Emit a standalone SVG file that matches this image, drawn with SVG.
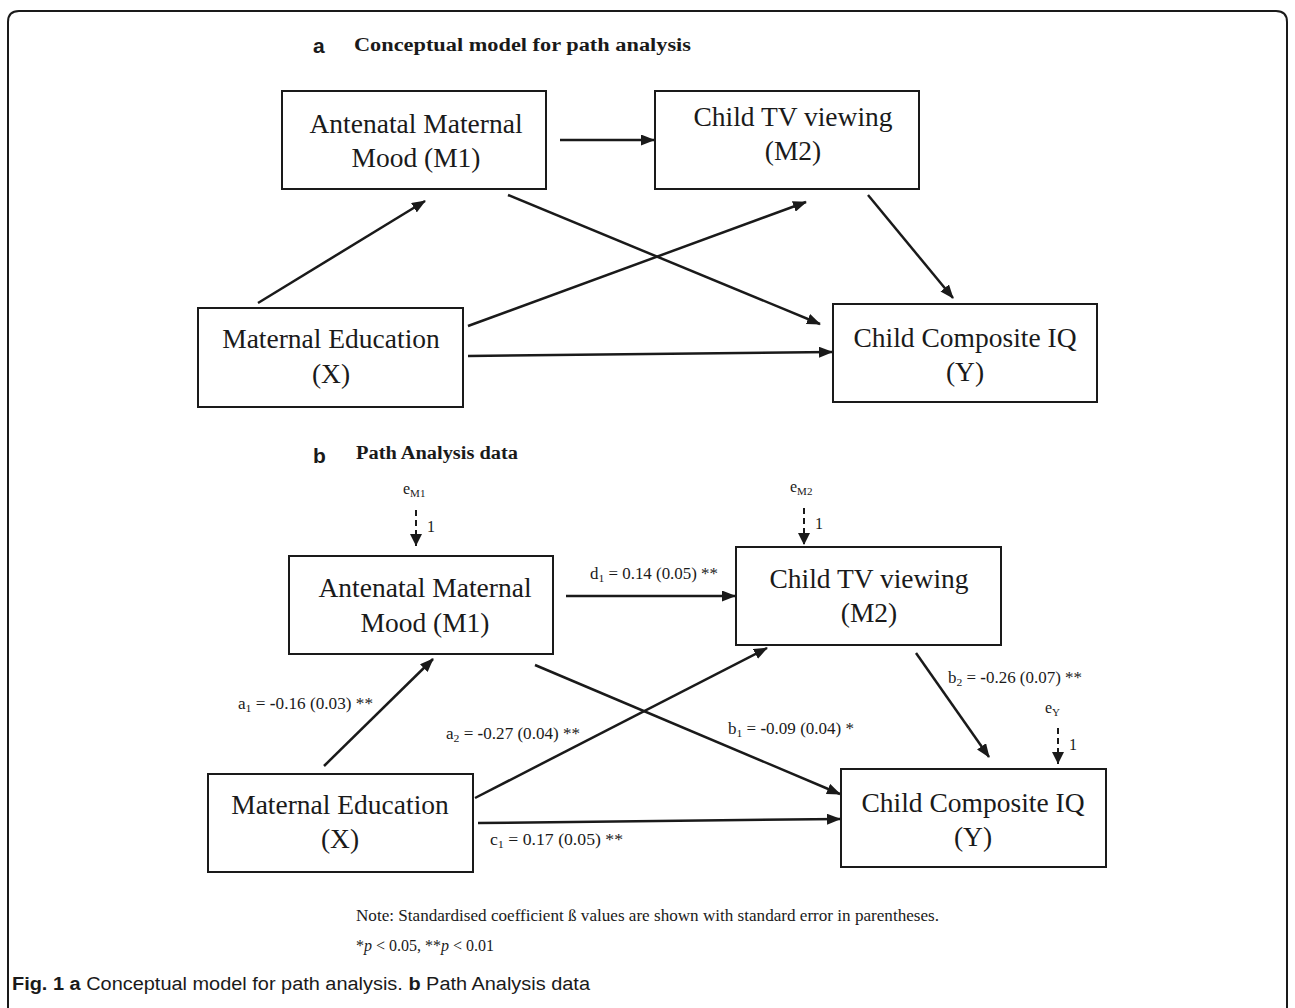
<svg xmlns="http://www.w3.org/2000/svg" width="1295" height="1008" viewBox="0 0 1295 1008">
<style>
.box{fill:#fff;stroke:#1a1a1a;stroke-width:2}
.nt{font-family:"Liberation Serif",serif;font-size:27.5px;fill:#1a1a1a;text-anchor:middle}
.lbl{font-family:"Liberation Serif",serif;font-size:16px;fill:#1a1a1a}
.sub{font-size:11px}
.edge{stroke:#1a1a1a;stroke-width:2.5;fill:none;marker-end:url(#ah)}
.dash{stroke:#1a1a1a;stroke-width:2;fill:none;stroke-dasharray:6,4;marker-end:url(#ah2)}
.ttl{font-family:"Liberation Serif",serif;font-size:18px;font-weight:bold;fill:#1a1a1a}
.let{font-family:"Liberation Sans",sans-serif;font-size:21px;font-weight:bold;fill:#1a1a1a}
.cap{font-family:"Liberation Sans",sans-serif;font-size:18px;fill:#1a1a1a}
</style>
<defs>
<marker id="ah" markerWidth="14" markerHeight="11" refX="13" refY="5.5" orient="auto" markerUnits="userSpaceOnUse">
<path d="M0,0 L14,5.5 L0,11 z" fill="#1a1a1a"/>
</marker>
<marker id="ah2" markerWidth="12" markerHeight="12" refX="12" refY="6" orient="auto" markerUnits="userSpaceOnUse">
<path d="M0,0 L12,6 L0,12 z" fill="#1a1a1a"/>
</marker>
</defs>
<rect width="1295" height="1008" fill="#fff"/>
<path d="M8,1010 L8,22 Q8,11 19,11 L1276,11 Q1287,11 1287,22 L1287,1010" fill="none" stroke="#1a1a1a" stroke-width="2"/>

<text class="let" x="313" y="53">a</text>
<text class="ttl" x="354" y="51" textLength="337" lengthAdjust="spacingAndGlyphs">Conceptual model for path analysis</text>

<g id="connectors-a">
<line class="edge" x1="560" y1="140" x2="654" y2="140"/>
<line class="edge" x1="258" y1="303" x2="425" y2="201"/>
<line class="edge" x1="468" y1="326" x2="806" y2="202"/>
<line class="edge" x1="508" y1="195" x2="820" y2="324"/>
<line class="edge" x1="868" y1="195" x2="953" y2="298"/>
<line class="edge" x1="468" y1="356" x2="832" y2="352"/>
</g>

<g id="a-M1"><rect class="box" x="282" y="91" width="264" height="98"/>
<text class="nt" x="416" y="133">Antenatal Maternal</text><text class="nt" x="416" y="167">Mood (M1)</text></g>
<g id="a-M2"><rect class="box" x="655" y="91" width="264" height="98"/>
<text class="nt" x="793" y="126">Child TV viewing</text><text class="nt" x="793" y="160">(M2)</text></g>
<g id="a-X"><rect class="box" x="198" y="308" width="265" height="99"/>
<text class="nt" x="331" y="348">Maternal Education</text><text class="nt" x="331" y="383">(X)</text></g>
<g id="a-Y"><rect class="box" x="833" y="304" width="264" height="98"/>
<text class="nt" x="965" y="347">Child Composite IQ</text><text class="nt" x="965" y="381">(Y)</text></g>

<text class="let" x="313" y="463">b</text>
<text class="ttl" x="356" y="459" textLength="162" lengthAdjust="spacingAndGlyphs">Path Analysis data</text>

<g id="connectors-b">
<line class="edge" x1="566" y1="596" x2="735" y2="596"/>
<line class="edge" x1="324" y1="766" x2="433" y2="659"/>
<line class="edge" x1="475" y1="798" x2="767" y2="648"/>
<line class="edge" x1="535" y1="665" x2="840" y2="794"/>
<line class="edge" x1="916" y1="653" x2="989" y2="757"/>
<line class="edge" x1="478" y1="823" x2="840" y2="819"/>
<line class="dash" x1="416" y1="510" x2="416" y2="546"/>
<line class="dash" x1="804" y1="508" x2="804" y2="545"/>
<line class="dash" x1="1058" y1="728" x2="1058" y2="764"/>
</g>

<g id="b-labels">
<text class="lbl" x="590" y="579" textLength="128" lengthAdjust="spacingAndGlyphs">d<tspan class="sub" dy="3">1</tspan><tspan dy="-3"> = 0.14 (0.05) **</tspan></text>
<text class="lbl" x="238" y="709" textLength="135" lengthAdjust="spacingAndGlyphs">a<tspan class="sub" dy="3">1</tspan><tspan dy="-3"> = <tspan font-weight="bold">-</tspan>0.16 (0.03) **</tspan></text>
<text class="lbl" x="446" y="739" textLength="134" lengthAdjust="spacingAndGlyphs">a<tspan class="sub" dy="3">2</tspan><tspan dy="-3"> = <tspan font-weight="bold">-</tspan>0.27 (0.04) **</tspan></text>
<text class="lbl" x="728" y="734" textLength="126" lengthAdjust="spacingAndGlyphs">b<tspan class="sub" dy="3">1</tspan><tspan dy="-3"> = <tspan font-weight="bold">-</tspan>0.09 (0.04) *</tspan></text>
<text class="lbl" x="948" y="683" textLength="134" lengthAdjust="spacingAndGlyphs">b<tspan class="sub" dy="3">2</tspan><tspan dy="-3"> = <tspan font-weight="bold">-</tspan>0.26 (0.07) **</tspan></text>
<text class="lbl" x="490" y="845" textLength="133" lengthAdjust="spacingAndGlyphs">c<tspan class="sub" dy="3">1</tspan><tspan dy="-3"> = 0.17 (0.05) **</tspan></text>
<text class="lbl" x="403" y="494" font-size="14">e<tspan class="sub" dy="3">M1</tspan></text>
<text class="lbl" x="427" y="532" font-size="14">1</text>
<text class="lbl" x="790" y="492" font-size="14">e<tspan class="sub" dy="3">M2</tspan></text>
<text class="lbl" x="815" y="529" font-size="14">1</text>
<text class="lbl" x="1045" y="713" font-size="14">e<tspan class="sub" dy="3">Y</tspan></text>
<text class="lbl" x="1069" y="750" font-size="14">1</text>
</g>

<g id="b-M1"><rect class="box" x="289" y="556" width="264" height="98"/>
<text class="nt" x="425" y="597">Antenatal Maternal</text><text class="nt" x="425" y="632">Mood (M1)</text></g>
<g id="b-M2"><rect class="box" x="736" y="547" width="265" height="98"/>
<text class="nt" x="869" y="588">Child TV viewing</text><text class="nt" x="869" y="622">(M2)</text></g>
<g id="b-X"><rect class="box" x="208" y="774" width="265" height="98"/>
<text class="nt" x="340" y="814">Maternal Education</text><text class="nt" x="340" y="848">(X)</text></g>
<g id="b-Y"><rect class="box" x="841" y="769" width="265" height="98"/>
<text class="nt" x="973" y="812">Child Composite IQ</text><text class="nt" x="973" y="846">(Y)</text></g>

<text class="lbl" x="356" y="921" font-size="16" textLength="583" lengthAdjust="spacingAndGlyphs">Note: Standardised coefficient ß values are shown with standard error in parentheses.</text>
<text class="lbl" x="356" y="951" font-size="15">*<tspan font-style="italic">p</tspan> &lt; 0.05, **<tspan font-style="italic">p</tspan> &lt; 0.01</text>
<text class="cap" x="12" y="990" textLength="578" lengthAdjust="spacingAndGlyphs"><tspan font-weight="bold">Fig. 1</tspan> <tspan font-weight="bold">a</tspan> Conceptual model for path analysis. <tspan font-weight="bold">b</tspan> Path Analysis data</text>
</svg>
